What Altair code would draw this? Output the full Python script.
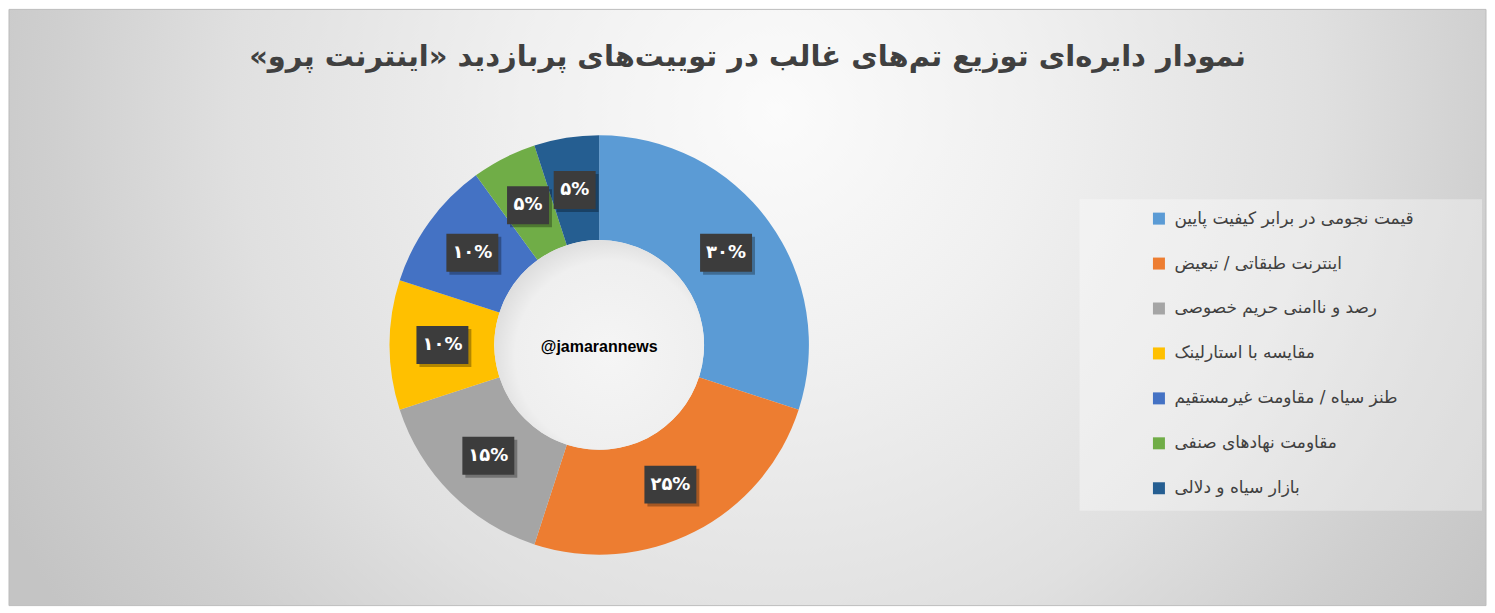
import math
import altair as alt
import pandas as pd

# ---- data ----
categories = [
    "قیمت نجومی در برابر کیفیت پایین",
    "اینترنت طبقاتی / تبعیض",
    "رصد و ناامنی حریم خصوصی",
    "مقایسه با استارلینک",
    "طنز سیاه / مقاومت غیرمستقیم",
    "مقاومت نهادهای صنفی",
    "بازار سیاه و دلالی",
]
shares = [30, 25, 15, 10, 10, 5, 5]
labels = ["۳۰%", "۲۵%", "۱۵%", "۱۰%", "۱۰%", "۵%", "۵%"]
colors = ["#5B9BD5", "#ED7D31", "#A5A5A5", "#FFC000", "#4472C4", "#70AD47", "#255E91"]
title_text = "نمودار دایره‌ای توزیع تم‌های غالب در توییت‌های پربازدید «اینترنت پرو»\u200f"
watermark = "@jamarannews"

df = pd.DataFrame({
    "theme": categories,
    "share": shares,
    "label": labels,
    "idx": list(range(len(categories))),
})
one = pd.DataFrame({"k": [0]})

W, H = 1479, 597
CX, CY = 591, 336
R_OUT, R_IN, R_LAB = 210, 105, 157

# ---- background with radial gradient ----
bg = alt.Chart(one).mark_rect(
    fill=alt.Gradient(
        gradient="radial",
        x1=0.52, y1=0.367, r1=0,
        x2=0.52, y2=0.367, r2=0.59,
        stops=[
            alt.GradientStop(color="#fbfbfb", offset=0),
            alt.GradientStop(color="#f0f0f0", offset=0.29),
            alt.GradientStop(color="#e0e0e0", offset=0.62),
            alt.GradientStop(color="#cfcfcf", offset=0.83),
            alt.GradientStop(color="#c4c4c4", offset=1),
        ],
    ),
    stroke="#bdbdbd",
    strokeWidth=1,
).encode(x=alt.value(0), x2=alt.value("width"), y=alt.value(0), y2=alt.value("height"))

legend_box = alt.Chart(one).mark_rect(
    fill="#ffffff", fillOpacity=0.35
).encode(x=alt.value(1072), x2=alt.value(1475), y=alt.value(190), y2=alt.value(502))

# ---- donut ----
ring = alt.Chart(df).mark_arc(outerRadius=R_OUT, innerRadius=R_IN).encode(
    theta=alt.Theta("share:Q", stack=True),
    order=alt.Order("idx:Q", sort="ascending"),
    color=alt.Color(
        "theme:N",
        scale=alt.Scale(domain=categories, range=colors),
        legend=alt.Legend(
            title=None,
            orient="none",
            legendX=1143,
            legendY=201,
            symbolType="square",
            symbolSize=144,
            symbolStrokeWidth=0,
            labelFont="DejaVu Sans",
            labelFontSize=17,
            labelColor="#404040",
            labelOffset=7,
            labelLimit=400,
            rowPadding=27,
            padding=0,
        ),
    ),
    x=alt.value(CX),
    y=alt.value(CY),
)

hole = alt.Chart(one).mark_arc(
    radius=R_IN, theta=0, theta2=2 * math.pi,
    fill=alt.Gradient(
        gradient="radial",
        x1=0.55, y1=0.55, r1=0,
        x2=0.55, y2=0.55, r2=0.6,
        stops=[
            alt.GradientStop(color="#f5f5f5", offset=0),
            alt.GradientStop(color="#efefef", offset=0.75),
            alt.GradientStop(color="#d8d8d8", offset=1),
        ],
    ),
).encode(x=alt.value(CX), y=alt.value(CY))

# ---- data labels placed through linear scales ----
lab_base = alt.Chart(df).transform_window(
    cum="sum(share)", sort=[alt.SortField("idx")], frame=[None, 0]
).transform_joinaggregate(
    total="sum(share)"
).transform_calculate(
    ang="2*PI*(datum.cum - datum.share/2)/datum.total",
    px="sin(datum.ang)",
    py="cos(datum.ang)",
    box="datum.share >= 10 ? 'M-26,-19L26,-19L26,19L-26,19Z' : 'M-21,-19L21,-19L21,19L-21,19Z'",
    shadow="datum.share >= 10 ? 'M-23,-16L29,-16L29,22L-23,22Z' : 'M-18,-16L24,-16L24,22L-18,22Z'",
)
xenc = alt.X("px:Q", scale=alt.Scale(domain=[-1, 1], range=[CX - R_LAB, CX + R_LAB], nice=False, zero=False), axis=None)
yenc = alt.Y("py:Q", scale=alt.Scale(domain=[-1, 1], range=[CY + R_LAB, CY - R_LAB], nice=False, zero=False), axis=None)

shadows = lab_base.mark_point(filled=True, size=4, color="#000000", opacity=0.3, strokeWidth=0).encode(
    x=xenc, y=yenc, shape=alt.Shape("shadow:N", scale=None, legend=None)
)
boxes = lab_base.mark_point(filled=True, size=4, color="#3c3c3c", opacity=1, strokeWidth=0).encode(
    x=xenc, y=yenc, shape=alt.Shape("box:N", scale=None, legend=None)
)
texts = lab_base.mark_text(
    font="DejaVu Sans", fontSize=18, fontWeight="bold", color="#ffffff", align="center", baseline="middle"
).encode(x=xenc, y=yenc, text="label:N")

wm = alt.Chart(one).mark_text(
    text=watermark, font="Liberation Sans", fontSize=16, fontWeight="bold", color="#000000",
    align="center", baseline="middle",
).encode(x=alt.value(CX), y=alt.value(CY + 2))

chart = alt.layer(bg, legend_box, ring, hole, shadows, boxes, texts, wm).properties(
    width=W,
    height=H,
    padding=0,
    title=alt.TitleParams(
        text=title_text,
        anchor="middle",
        orient="top",
        font="DejaVu Sans",
        fontSize=29,
        fontWeight="bold",
        color="#404040",
        offset=-63,
    ),
).configure_view(stroke=None)

chart.save("out.html", embed_options={"renderer": "svg", "actions": False})
